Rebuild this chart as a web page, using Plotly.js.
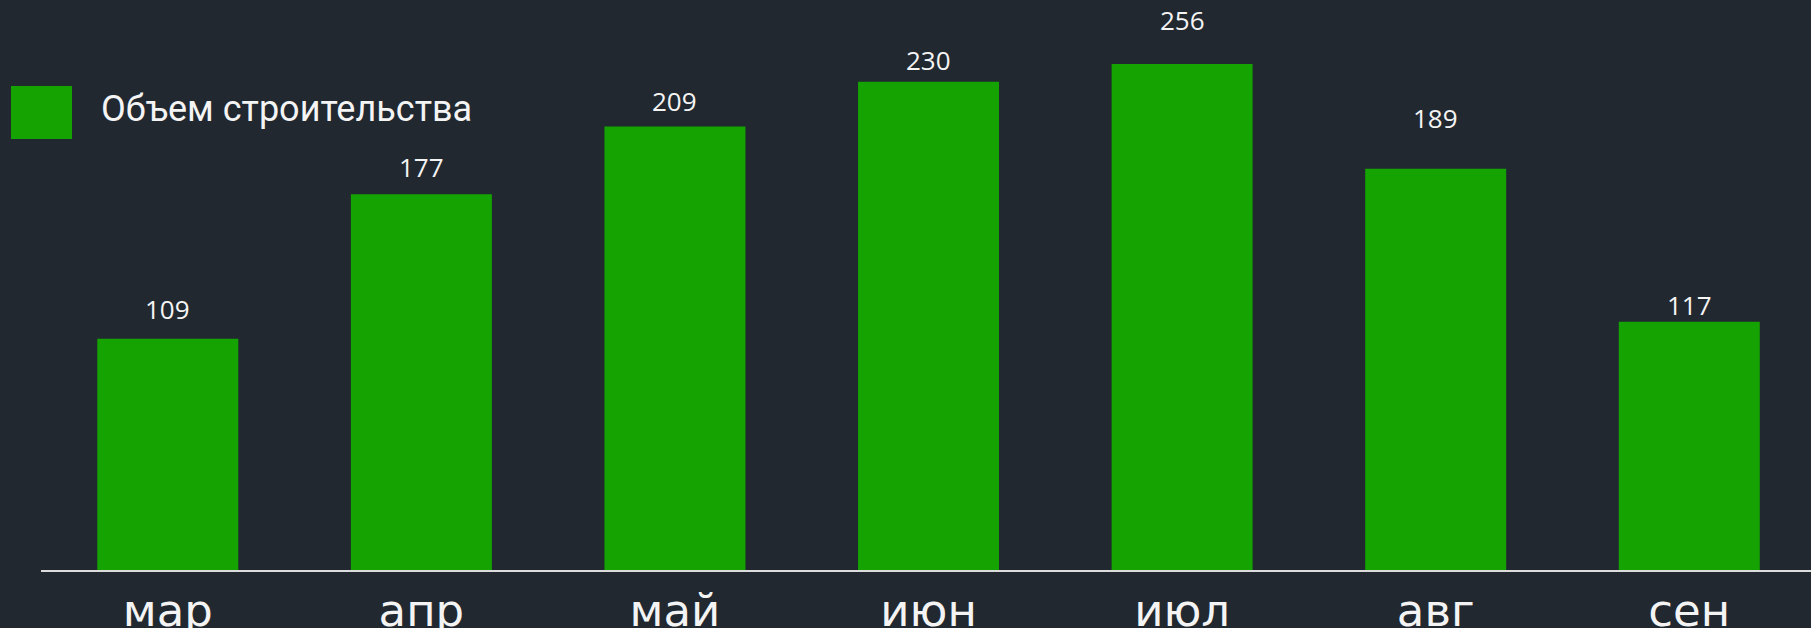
<!DOCTYPE html>
<html>
<head>
<meta charset="utf-8">
<script src="https://cdn.plot.ly/plotly-3.0.1.min.js"></script>
<style>
  html, body { margin: 0; padding: 0; background: #212830; }
  #chart { width: 1811px; height: 628px; }
</style>
</head>
<body>
<div id="chart"></div>
<script>
// Data
const months = ["мар", "апр", "май", "июн", "июл", "авг", "сен"];
const volume = [109, 177, 209, 230, 256, 189, 117];
const valueLabels = ["109", "177", "209", "230", "256", "189", "117"];
// heights (in value units) where the value labels sit in the picture
const labelLevels = [123, 190, 221, 240.5, 259, 213, 125];
const seriesName = "Объем строительства";

const TICK_FONT = "'DejaVu Sans', sans-serif";
const TEXT_FONT = "'Open Sans', sans-serif";
const LEGEND_FONT = "Roboto, 'Open Sans', sans-serif";
const GREEN = "#14a300";
const BG = "#212830";
const TXT = "#f4f4f4";
const Y_MAX = 238.4; // visible top of the value axis (the июл bar is cut there)

const bars = {
  type: "bar",
  x: months,
  y: volume,
  name: seriesName,
  marker: { color: GREEN },
  showlegend: false,
  hoverinfo: "x+y"
};

// value labels: placed in the value scale, converted to the plot's fraction
const labelAnnotations = months.map((m, i) => ({
  xref: "x", yref: "paper",
  x: m, y: labelLevels[i] / Y_MAX,
  xanchor: "center", yanchor: "middle",
  text: valueLabels[i],
  showarrow: false,
  font: { family: TEXT_FONT, size: 26, color: TXT }
}));

const layout = {
  width: 1811,
  height: 628,
  paper_bgcolor: BG,
  plot_bgcolor: BG,
  margin: { l: 41, r: 0, t: 64, b: 58, pad: 0 },
  bargap: 0.444,
  showlegend: false,
  font: { family: TEXT_FONT, color: TXT },
  xaxis: {
    type: "category",
    range: [-0.5, 6.48],
    showgrid: false,
    zeroline: false,
    showline: true,
    linecolor: "#dcdcdc",
    linewidth: 1.5,
    ticks: "",
    tickfont: { family: TICK_FONT, size: 45, color: TXT },
    fixedrange: true
  },
  yaxis: {
    range: [0, Y_MAX],
    showgrid: false,
    zeroline: false,
    showline: false,
    showticklabels: false,
    ticks: "",
    fixedrange: true
  },
  shapes: [{
    type: "rect",
    xref: "paper", yref: "paper",
    xsizemode: "pixel", ysizemode: "pixel",
    xanchor: 0, yanchor: 1,
    x0: -30, x1: 31,
    y0: -75, y1: -22,
    fillcolor: GREEN,
    line: { width: 0 }
  }],
  annotations: labelAnnotations.concat([{
    xref: "paper", yref: "paper",
    x: 0, y: 1,
    xshift: 58, yshift: -45,
    xanchor: "left", yanchor: "middle",
    text: seriesName,
    showarrow: false,
    font: { family: LEGEND_FONT, size: 36, color: TXT }
  }])
};

Plotly.newPlot("chart", [bars], layout, { displayModeBar: false, staticPlot: true });
</script>
</body>
</html>
